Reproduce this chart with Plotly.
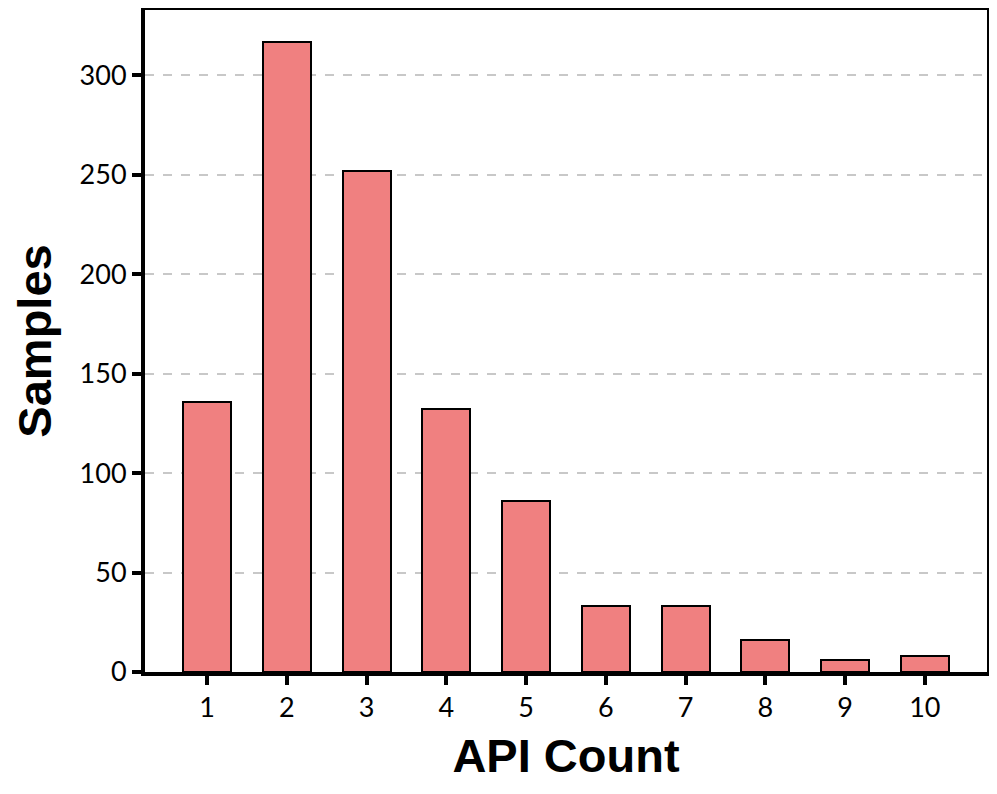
import plotly.graph_objects as go

api_count = [1, 2, 3, 4, 5, 6, 7, 8, 9, 10]
samples = [136, 317, 252, 132, 86, 33, 33, 16, 6, 8]
x_ticks = [1, 2, 3, 4, 5, 6, 7, 8, 9, 10]
y_ticks = [0, 50, 100, 150, 200, 250, 300]

fig = go.Figure(go.Bar(
    x=api_count, y=samples, width=0.6,
    marker=dict(color="#F08080", line=dict(color="black", width=2)),
))

tick_font = dict(family="Lato, DejaVu Sans, sans-serif", size=27, color="black")
title_font = dict(family="Liberation Sans, Arial, sans-serif", size=47, color="black")

fig.update_layout(
    width=989, height=786,
    margin=dict(l=137, r=10, t=2, b=122),
    plot_bgcolor="white", paper_bgcolor="white",
    showlegend=False,
    bargap=0,
)
fig.update_xaxes(
    range=[0.22, 10.78], tickvals=x_ticks, ticktext=[str(t) for t in x_ticks],
    showline=True, linecolor="black", linewidth=4, mirror=True,
    ticks="outside", ticklen=9, tickwidth=3.5, tickcolor="black",
    showgrid=False, zeroline=False, tickfont=tick_font, automargin=False,
    title=dict(text="<b>API Count</b>", font=title_font, standoff=18),
)
fig.update_yaxes(
    range=[0, 332.85], tickvals=y_ticks,
    showline=True, linecolor="black", linewidth=4, mirror=True,
    ticks="outside", ticklen=9, tickwidth=3.5, tickcolor="black",
    showgrid=True, gridcolor="#c8c8c8", griddash="dash", gridwidth=1.8,
    zeroline=False, tickfont=tick_font, automargin=False,
    title=dict(text="<b>Samples</b>", font=title_font, standoff=22),
)

fig.write_html("out.html")
